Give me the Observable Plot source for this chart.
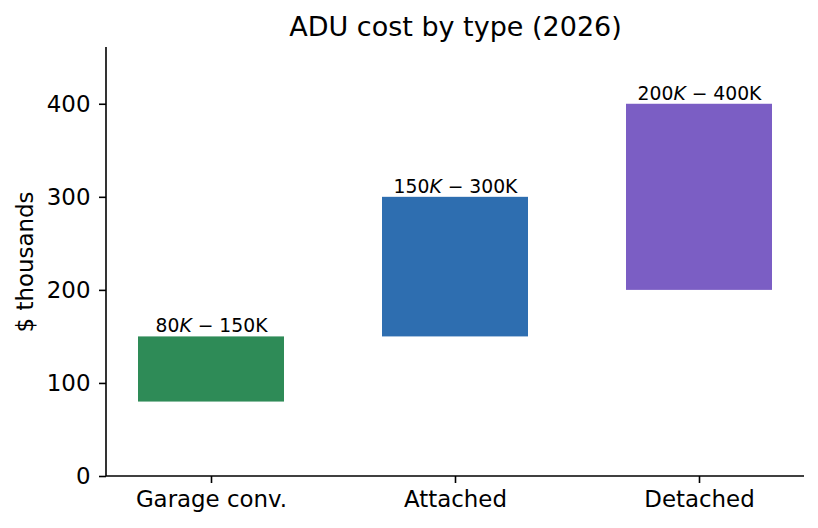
<!DOCTYPE html>
<html>
<head>
<meta charset="utf-8">
<script src="https://cdn.jsdelivr.net/npm/d3@7"></script>
<script src="https://cdn.jsdelivr.net/npm/@observablehq/plot@0.6"></script>
<style>
  html, body { margin: 0; padding: 0; background: white; }
</style>
</head>
<body>
<div id="chart"></div>
<script>
const categories = ["Garage conv.", "Attached", "Detached"];
const lowValues = [80, 150, 200];
const highValues = [150, 300, 400];
const barColors = ["#2e8b57", "#2e6eb0", "#7b5ec4"];
const yTicks = [0, 100, 200, 300, 400];
const titleText = "ADU cost by type (2026)";
const yLabelText = "$ thousands";

const data = categories.map((c, i) => ({
  cat: c, lo: lowValues[i], hi: highValues[i],
  label: `${lowValues[i]}K − ${highValues[i]}K`
}));

const W = 818, H = 528, ML = 106, MR = 14, MT = 47, MB = 52;

function spines(index, scales, values, dimensions) {
  const d = dimensions || {width: W, height: H, marginLeft: ML, marginRight: MR, marginTop: MT, marginBottom: MB};
  const g = d3.create("svg:g").attr("stroke", "black").attr("stroke-width", 1.6).attr("fill", "none");
  g.append("line")
    .attr("x1", d.marginLeft).attr("x2", d.marginLeft)
    .attr("y1", d.marginTop).attr("y2", d.height - d.marginBottom);
  g.append("line")
    .attr("x1", d.marginLeft).attr("x2", d.width - d.marginRight)
    .attr("y1", d.height - d.marginBottom).attr("y2", d.height - d.marginBottom);
  return g.node();
}

const chart = Plot.plot({
  width: W, height: H,
  marginLeft: ML, marginRight: MR, marginTop: MT, marginBottom: MB,
  style: {fontFamily: "DejaVu Sans", background: "white", color: "black"},
  x: {domain: categories, paddingInner: 0.4, paddingOuter: 0.13, align: 0.5, label: null},
  y: {domain: [0, 461], label: null},
  color: {domain: categories, range: barColors},
  marks: [
    Plot.barY(data, {x: "cat", y1: "lo", y2: "hi", fill: "cat"}),
    Plot.text(data, {x: "cat", y: "hi", text: "label", fontSize: 18.75, dy: -10.5, fill: "black"}),
    Plot.axisY({ticks: yTicks, tickSize: 7, tickPadding: 9, fontSize: 22.9, strokeWidth: 1.6, tickFormat: d => String(d), label: null}),
    Plot.axisX({tickSize: 7, tickPadding: 7, fontSize: 22.9, strokeWidth: 1.6, label: null}),
    spines,
    Plot.text([titleText], {frameAnchor: "top", lineAnchor: "middle", textAnchor: "middle", dy: -20, fontSize: 27, fill: "black"}),
    Plot.text([yLabelText], {frameAnchor: "left", lineAnchor: "middle", textAnchor: "middle", rotate: -90, dx: -81, fontSize: 22.9, fill: "black"})
  ]
});

// Render the first "K" of each range label in italic (as mathtext does)
chart.querySelectorAll("text").forEach(t => {
  const s = t.textContent;
  const m = s.match(/^(\d+)K − (\d+K)$/);
  if (m && t.children.length === 0) {
    t.textContent = "";
    const ns = "http://www.w3.org/2000/svg";
    const a = document.createElementNS(ns, "tspan"); a.textContent = m[1];
    const b = document.createElementNS(ns, "tspan"); b.textContent = "K"; b.setAttribute("font-style", "italic");
    const c = document.createElementNS(ns, "tspan"); c.textContent = " − " + m[2];
    t.append(a, b, c);
  }
});

document.getElementById("chart").append(chart);
</script>
</body>
</html>
